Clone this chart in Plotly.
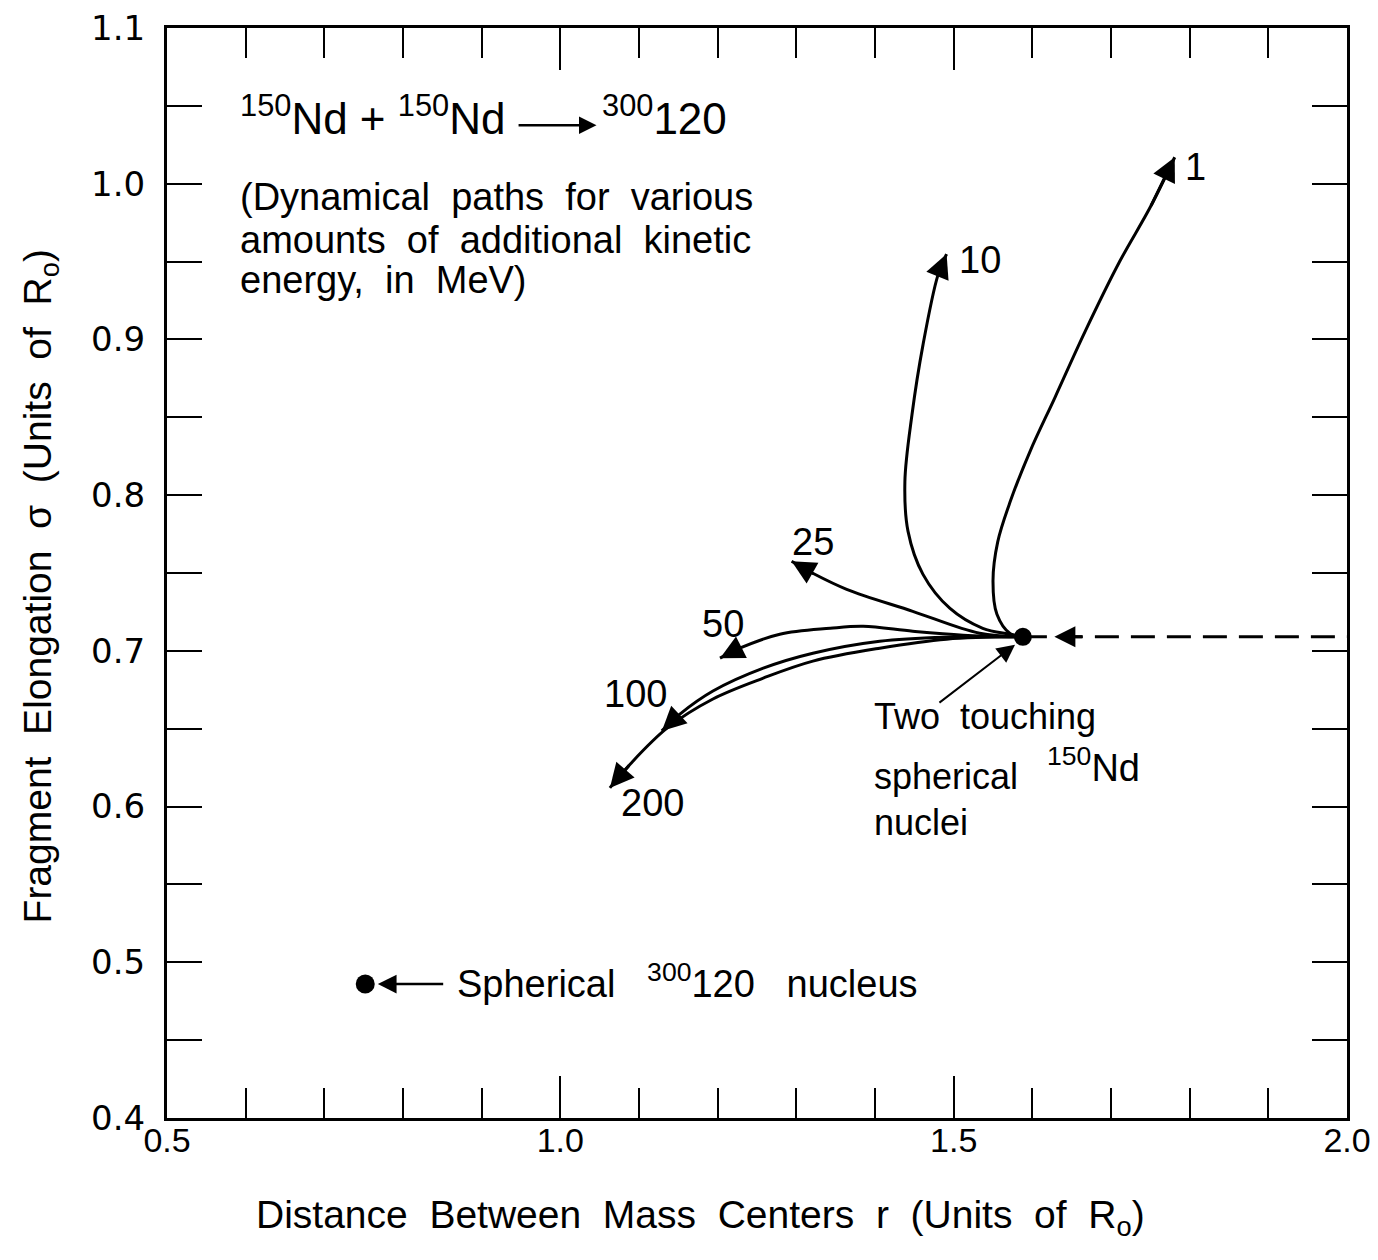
import plotly.graph_objects as go

# ---------------- data ----------------
touch_r, touch_s = 1.588, 0.709          # two touching spherical 150Nd nuclei
sphere_r, sphere_s = 0.752, 0.486        # spherical 300-120 nucleus

path_labels = ["1", "10", "25", "50", "100", "200"]
path_r = {
    "1":   [1.588, 1.572, 1.555, 1.550, 1.556, 1.572, 1.597, 1.629, 1.667, 1.711, 1.750, 1.781],
    "10":  [1.588, 1.572, 1.537, 1.495, 1.461, 1.442, 1.438, 1.447, 1.461, 1.480, 1.491],
    "25":  [1.588, 1.533, 1.448, 1.364, 1.321, 1.294],
    "50":  [1.588, 1.512, 1.448, 1.385, 1.343, 1.279, 1.228, 1.203],
    "100": [1.588, 1.491, 1.406, 1.321, 1.258, 1.194, 1.152, 1.129],
    "200": [1.588, 1.491, 1.406, 1.321, 1.258, 1.194, 1.136, 1.089, 1.063],
}
path_s = {
    "1":   [0.709, 0.711, 0.7235, 0.745, 0.770, 0.796, 0.828, 0.863, 0.905, 0.950, 0.985, 1.017],
    "10":  [0.709, 0.7107, 0.7145, 0.7274, 0.7491, 0.7767, 0.8087, 0.8516, 0.8965, 0.9413, 0.9548],
    "25":  [0.709, 0.7113, 0.7254, 0.7395, 0.7498, 0.7575],
    "50":  [0.709, 0.7101, 0.7126, 0.7158, 0.7145, 0.7107, 0.7017, 0.6953],
    "100": [0.709, 0.7088, 0.7062, 0.6985, 0.6889, 0.6742, 0.6594, 0.6486],
    "200": [0.709, 0.7075, 0.7017, 0.6934, 0.6825, 0.6691, 0.6505, 0.6274, 0.6120],
}
label_r = {"1": 1.807, "10": 1.533, "25": 1.321, "50": 1.207, "100": 1.095, "200": 1.117}
label_s = {"1": 1.0105, "10": 0.951, "25": 0.770, "50": 0.717, "100": 0.672, "200": 0.602}

approach_r = [touch_r, 2.0]      # dashed incoming trajectory
approach_s = [touch_s, touch_s]
approach_arrow_r = [1.665, 1.628]

x_ticks = [0.5, 1.0, 1.5, 2.0]
x_ticktext = ["0.5", "1.0", "1.5", "2.0"]
x_minor = [0.6, 0.7, 0.8, 0.9, 1.1, 1.2, 1.3, 1.4, 1.6, 1.7, 1.8, 1.9]
y_ticks = [0.4, 0.5, 0.6, 0.7, 0.8, 0.9, 1.0, 1.1]
y_ticktext = ["0.4", "0.5", "0.6", "0.7", "0.8", "0.9", "1.0", "1.1"]
y_minor = [0.45, 0.55, 0.65, 0.75, 0.85, 0.95, 1.05]

FONT = "Liberation Sans"
BLACK = "black"

fig = go.Figure()

# dashed approach line
fig.add_trace(go.Scatter(x=approach_r, y=approach_s, mode="lines",
                         line=dict(color=BLACK, width=3, dash="24px,12px"),
                         hoverinfo="skip", showlegend=False))

# dynamical paths
for lab in path_labels:
    fig.add_trace(go.Scatter(x=path_r[lab], y=path_s[lab], mode="lines",
                             line=dict(color=BLACK, width=3, shape="spline", smoothing=1.0),
                             hoverinfo="skip", showlegend=False))

# points
fig.add_trace(go.Scatter(x=[touch_r], y=[touch_s], mode="markers",
                         marker=dict(symbol="circle", size=16, color=BLACK,
                                     line=dict(color=BLACK, width=2)),
                         hoverinfo="skip", showlegend=False))
fig.add_trace(go.Scatter(x=[sphere_r], y=[sphere_s], mode="markers",
                         marker=dict(symbol="circle", size=19, color=BLACK),
                         hoverinfo="skip", showlegend=False))

ann = []
# arrowheads at path ends + labels
for lab in path_labels:
    xs, ys = path_r[lab], path_s[lab]
    ann.append(dict(x=xs[-1], y=ys[-1], ax=xs[-2], ay=ys[-2], xref="x", yref="y",
                    axref="x", ayref="y", text="", showarrow=True, arrowhead=2,
                    arrowsize=1.6, arrowwidth=3, arrowcolor=BLACK, standoff=0))
    ann.append(dict(x=label_r[lab], y=label_s[lab], xref="x", yref="y", text=lab,
                    showarrow=False, font=dict(family=FONT, size=38, color=BLACK)))

# arrow on the dashed approach line
ann.append(dict(x=approach_arrow_r[1], y=touch_s, ax=approach_arrow_r[0], ay=touch_s,
                xref="x", yref="y", axref="x", ayref="y", text="", showarrow=True,
                arrowhead=2, arrowsize=1.4, arrowwidth=3, arrowcolor=BLACK, standoff=0))

# pointer to touching nuclei
ann.append(dict(x=1.578, y=0.704, ax=1.480, ay=0.666, xref="x", yref="y",
                axref="x", ayref="y", text="", showarrow=True, arrowhead=2,
                arrowsize=1.8, arrowwidth=2, arrowcolor=BLACK, standoff=0))
ann.append(dict(x=1.396, y=0.658, xref="x", yref="y", text="Two  touching",
                xanchor="left", showarrow=False, font=dict(family=FONT, size=36, color=BLACK)))
ann.append(dict(x=1.396, y=0.6195, xref="x", yref="y", text="spherical",
                xanchor="left", showarrow=False, font=dict(family=FONT, size=36, color=BLACK)))
ann.append(dict(x=1.616, y=0.627, xref="x", yref="y", text="<sup>150</sup>Nd",
                xanchor="left", showarrow=False, font=dict(family=FONT, size=38, color=BLACK)))
ann.append(dict(x=1.396, y=0.590, xref="x", yref="y", text="nuclei",
                xanchor="left", showarrow=False, font=dict(family=FONT, size=36, color=BLACK)))

# pointer to spherical nucleus
ann.append(dict(x=0.768, y=sphere_s, ax=0.853, ay=sphere_s, xref="x", yref="y",
                axref="x", ayref="y", text="", showarrow=True, arrowhead=2,
                arrowsize=1.5, arrowwidth=2.5, arrowcolor=BLACK, standoff=0))
ann.append(dict(x=0.866, y=0.488, xref="x", yref="y",
                text="Spherical   <sup>300</sup>120   nucleus",
                xanchor="left", showarrow=False, font=dict(family=FONT, size=38, color=BLACK)))

# reaction equation
eq_s = 1.044
ann.append(dict(x=0.590, y=eq_s, xref="x", yref="y", text="<sup>150</sup>Nd + <sup>150</sup>Nd",
                xanchor="left", showarrow=False, font=dict(family=FONT, size=44, color=BLACK)))
ann.append(dict(x=1.046, y=1.0375, ax=0.945, ay=1.0375, xref="x", yref="y",
                axref="x", ayref="y", text="", showarrow=True, arrowhead=2,
                arrowsize=1.4, arrowwidth=2.5, arrowcolor=BLACK, standoff=0))
ann.append(dict(x=1.050, y=eq_s, xref="x", yref="y", text="<sup>300</sup>120",
                xanchor="left", showarrow=False, font=dict(family=FONT, size=44, color=BLACK)))

# description
desc_lines = ["(Dynamical  paths  for  various", "amounts  of  additional  kinetic",
              "energy,  in  MeV)"]
desc_s = [0.9913, 0.9637, 0.938]
for line, s in zip(desc_lines, desc_s):
    ann.append(dict(x=0.590, y=s, xref="x", yref="y", text=line, xanchor="left",
                    showarrow=False, font=dict(family=FONT, size=38, color=BLACK)))

# axis titles as annotations (placed as in the reference)
ann.append(dict(x=0.4525, y=-0.0915, xref="paper", yref="paper", xanchor="center",
                yanchor="middle",
                text="Distance  Between  Mass  Centers  r  (Units  of  R<sub>o</sub>)",
                showarrow=False, font=dict(family=FONT, size=39, color=BLACK)))
ann.append(dict(x=-0.1076, y=0.4877, xref="paper", yref="paper", textangle=-90,
                xanchor="center", yanchor="middle",
                text="Fragment  Elongation  σ  (Units  of  R<sub>o</sub>)",
                showarrow=False, font=dict(family=FONT, size=39, color=BLACK)))

axis_common = dict(showline=True, linecolor=BLACK, linewidth=3, mirror="allticks",
                   ticks="inside", tickcolor=BLACK, tickwidth=2, showgrid=False,
                   zeroline=False, automargin=False, ticklabeloverflow="allow")

fig.update_layout(
    width=1362, height=1244, autosize=False,
    paper_bgcolor="white", plot_bgcolor="white",
    margin=dict(l=159, r=23, t=20, b=134),
    annotations=ann,
    xaxis=dict(range=[0.5, 2.0], tickvals=x_ticks, ticktext=x_ticktext, ticklen=42,
               ticklabelstandoff=-10,
               tickfont=dict(family=FONT, size=34, color=BLACK),
               minor=dict(tickvals=x_minor, ticklen=30, ticks="inside", tickcolor=BLACK, tickwidth=2),
               **axis_common),
    yaxis=dict(range=[0.4, 1.1], tickvals=y_ticks, ticktext=y_ticktext, ticklen=35,
               ticklabelstandoff=12,
               tickfont=dict(family="DejaVu Sans", size=34, color=BLACK),
               minor=dict(tickvals=y_minor, ticklen=35, ticks="inside", tickcolor=BLACK, tickwidth=2),
               **axis_common),
)

fig.write_html("out.html")
